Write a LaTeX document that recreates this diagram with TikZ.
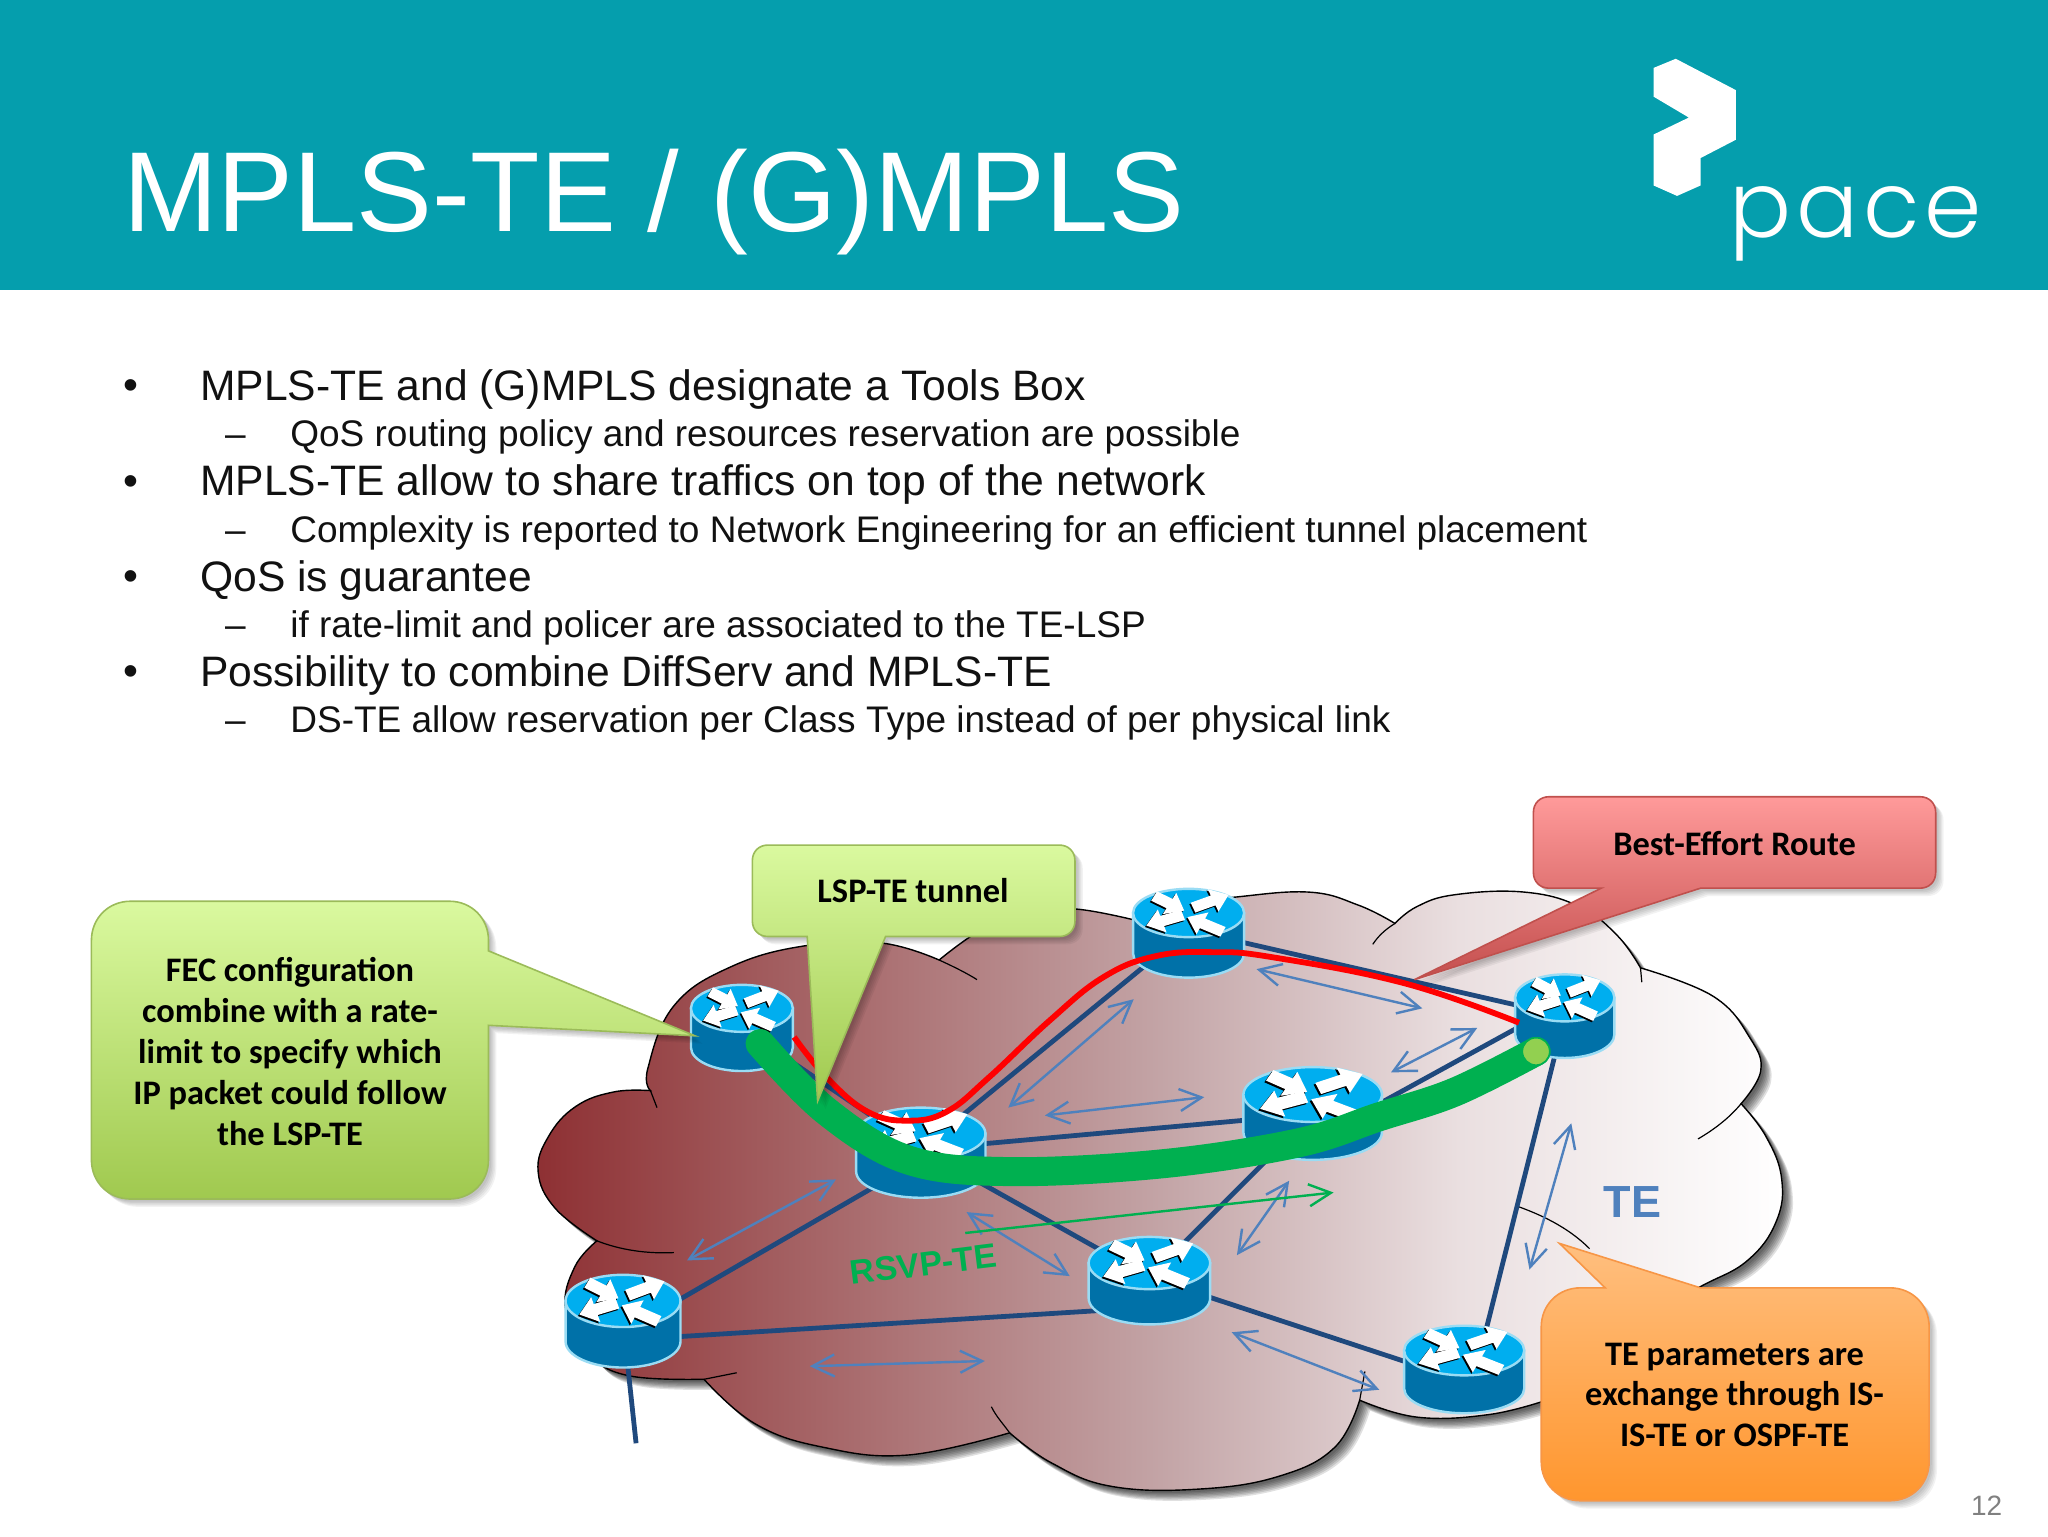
\documentclass[tikz,border=0pt]{standalone}
\usepackage{fontspec}
\usetikzlibrary{arrows.meta,calc}
\setmainfont{Liberation Sans}
\newfontfamily\calfont{Carlito}
\newfontfamily\pacefont{Poppins Light}[LetterSpace=5]
\definecolor{banner}{HTML}{059EAD}
\definecolor{linkblue}{HTML}{1F497D}
\definecolor{arrblue}{HTML}{4F81BD}
\definecolor{tegreen}{HTML}{00B050}
\definecolor{dotgreen}{HTML}{92D050}
\definecolor{rtop}{HTML}{00AEEF}
\definecolor{rside}{HTML}{0071A8}
\definecolor{rrim}{HTML}{9ADCF4}
\definecolor{bodytxt}{HTML}{111111}
\definecolor{FECa}{HTML}{DAF99F}
\definecolor{FECb}{HTML}{A0C94F}
\definecolor{FECe}{HTML}{9BBB59}
\definecolor{BSa}{HTML}{FF9A9A}
\definecolor{BSb}{HTML}{C44F4E}
\definecolor{BSe}{HTML}{C0504D}
\definecolor{ORa}{HTML}{FFBF7F}
\definecolor{ORb}{HTML}{FF962E}
\definecolor{ORe}{HTML}{F79646}
\definecolor{cl0}{HTML}{8E3033}
\definecolor{cl1}{HTML}{A35F61}
\definecolor{cl2}{HTML}{C3A4A6}
\definecolor{cl3}{HTML}{EADFE0}
\definecolor{cl4}{HTML}{FFFFFF}
\pgfdeclarehorizontalshading{cloudsh}{100bp}{color(0bp)=(cl0);color(25bp)=(cl0);color(35bp)=(cl1);color(50bp)=(cl2);color(62bp)=(cl3);color(75bp)=(cl4);color(100bp)=(cl4)}
% router drawing
\newcommand{\rtar}[4]{%
  \pgfmathsetmacro\rax{2*(#3-#1)}\pgfmathsetmacro\ray{#4-#2}%
  \pgfmathsetmacro\ral{veclen(\rax,\ray)}%
  \pgfmathsetmacro\rux{\rax/\ral}\pgfmathsetmacro\ruy{\ray/\ral}%
  \pgfmathsetmacro\rvx{-\ruy}\pgfmathsetmacro\rvy{\rux}%
  \pgfmathsetmacro\rnx{#3-\rux*.3}\pgfmathsetmacro\rny{#4-\ruy*.6}%
  \def\rtpoly{({#1+\rvx*.11},{#2+\rvy*.22}) -- ({\rnx+\rvx*.11},{\rny+\rvy*.22}) -- ({\rnx+\rvx*.25},{\rny+\rvy*.5}) -- (#3,#4) -- ({\rnx-\rvx*.25},{\rny-\rvy*.5}) -- ({\rnx-\rvx*.11},{\rny-\rvy*.22}) -- ({#1-\rvx*.11},{#2-\rvy*.22}) -- cycle}%
  \fill[black,shift={(-.025,.06)}] \rtpoly;
  \fill[white] \rtpoly;
}
\newcommand{\router}[5]{%
  \begin{scope}[shift={(#1,#2)},xscale=#3,yscale=#4]
  \pgfmathsetmacro\rH{#5/#4}
  \pgfmathsetmacro\rHa{\rH+.5523}\pgfmathsetmacro\rHb{\rH+1}
  \filldraw[fill=rside,draw=rrim,line width=1.2pt] (-1,0) -- (-1,\rH) .. controls (-1,\rHa) and (-.5523,\rHb) .. (0,\rHb) .. controls (.5523,\rHb) and (1,\rHa) .. (1,\rH) -- (1,0) -- cycle;
  \filldraw[fill=rtop,draw=rrim,line width=1.2pt] (0,0) circle (1);
  \rtar{-.62}{-.7}{-.08}{-.1}
  \rtar{.08}{-.22}{.72}{-.75}
  \rtar{-.1}{.08}{-.76}{.52}
  \rtar{.62}{.78}{-.02}{.17}
  \end{scope}}
\newcommand{\softshadow}[3]{\foreach \s in {#3}{\fill[black,opacity=#2,shift={(\s,\s)}] #1;}}
\def\cloudpath{(498,835)
 -- plot[smooth,tension=.7] coordinates {(498,835)(496,818)(516,770)(560,740)(617,724)(675,722)(719,735)}
 -- plot[smooth,tension=.7] coordinates {(719,735)(753,711)(790,698)(824,696)(867,704)}
 -- plot[smooth,tension=.7] coordinates {(867,704)(905,692)(944,687)(1002,683)(1040,693)(1068,707)}
 -- plot[smooth,tension=.7] coordinates {(1068,707)(1085,694)(1114,685)(1167,683)(1209,694)(1238,716)(1256,741)}
 -- plot[smooth,tension=.7] coordinates {(1256,741)(1312,763)(1340,795)(1348,820)(1333,845)}
 -- plot[smooth,tension=.7] coordinates {(1333,845)(1352,870)(1364,902)(1360,935)(1338,965)(1302,985)(1260,1008)(1184,1072)}
 -- plot[smooth,tension=.7] coordinates {(1184,1072)(1140,1083)(1085,1085)(1041,1072)}
 -- plot[smooth,tension=.7] coordinates {(1041,1072)(1022,1108)(980,1130)(919,1140)(851,1138)(805,1120)(773,1097)}
 -- plot[smooth,tension=.7] coordinates {(773,1097)(695,1114)(630,1108)(578,1090)(539,1056)}
 -- plot[smooth,tension=.7] coordinates {(539,1056)(480,1053)(450,1035)(433,1002)(440,970)(457,950)}
 -- plot[smooth,tension=.7] coordinates {(457,950)(425,925)(412,897)(420,870)(441,847)(470,836)(498,835)}
 -- cycle}
\def\fecpath{(100,690) -- (344,690) .. controls (361,690) and (374,703) .. (374,720) -- (374,728) -- (532,793) -- (374,785) -- (374,888) .. controls (374,905) and (361,918) .. (344,918) -- (100,918) .. controls (83,918) and (70,905) .. (70,888) -- (70,720) .. controls (70,703) and (83,690) .. (100,690) -- cycle}
\def\lsppath{(588,647) -- (811,647) .. controls (818,647) and (823,652) .. (823,659) -- (823,705) .. controls (823,712) and (818,717) .. (811,717) -- (678,717) -- (626,843) -- (618,717) -- (588,717) .. controls (581,717) and (576,712) .. (576,705) -- (576,659) .. controls (576,652) and (581,647) .. (588,647) -- cycle}
\def\bestpath{(1186,610) -- (1470,610) .. controls (1477,610) and (1482,615) .. (1482,622) -- (1482,668) .. controls (1482,675) and (1477,680) .. (1470,680) -- (1302,680) -- (1083,750) -- (1226,680) -- (1186,680) .. controls (1179,680) and (1174,675) .. (1174,668) -- (1174,622) .. controls (1174,615) and (1179,610) .. (1186,610) -- cycle}
\def\orgpath{(1210,986) -- (1229,986) -- (1194,952) -- (1302,986) -- (1447,986) .. controls (1464,986) and (1477,999) .. (1477,1016) -- (1477,1119) .. controls (1477,1136) and (1464,1149) .. (1447,1149) -- (1210,1149) .. controls (1193,1149) and (1180,1136) .. (1180,1119) -- (1180,1016) .. controls (1180,999) and (1193,986) .. (1210,986) -- cycle}
\tikzset{
  link/.style={draw=linkblue,line width=2.4pt},
  dbl/.style={draw=arrblue,line width=1.2pt,{Straight Barb[length=11pt,width=11pt,line width=1.2pt]}-{Straight Barb[length=11pt,width=11pt,line width=1.2pt]}},
  tail/.style={draw=black,line width=.6pt},
  mainline/.style={anchor=base west,inner sep=0pt,text=bodytxt,font=\fontsize{21.3pt}{25pt}\selectfont},
  subline/.style={anchor=base west,inner sep=0pt,text=bodytxt,font=\fontsize{18.5pt}{22pt}\selectfont},
  calltxt/.style={anchor=center,inner sep=0pt,align=center,text=black,font=\calfont\bfseries\fontsize{17.2pt}{20.45pt}\selectfont},
}
\begin{document}
\begin{tikzpicture}[x=0.65306pt,y=-0.65306pt]
\useasboundingbox (0,0) rectangle (1568,1176);
\fill[white] (0,0) rectangle (1568,1176);
\fill[banner] (0,0) rectangle (1568,222);
\node[anchor=base west,inner sep=0pt,text=white,font=\fontsize{56.85pt}{70pt}\selectfont] (title) at (94,177) {MPLS-TE / (G)MPLS};
% logo
\fill[white] (1266,52) -- (1283,45) -- (1329,69) -- (1329,107) -- (1302,121) -- (1302,142) -- (1284,150) -- (1266,142) -- (1266,103) -- (1293,90) -- (1266,74) -- cycle;
\node[anchor=base west,inner sep=0pt,text=white,font=\pacefont\fontsize{46pt}{50pt}\selectfont] (pace) at (1324,182) {pace};
% bullets
\foreach \y/\n in {306/b1,379/b2,452/b3,525/b4}{\node[mainline] (\n) at (94,\y) {•};}
\foreach \y/\n in {342/d1,415/d2,488/d3,561/d4}{\node[subline] (\n) at (172,\y) {–};}
\node[mainline] (t1) at (153,306.5) {MPLS-TE and (G)MPLS designate a Tools Box};
\node[subline] (s1) at (222,342) {QoS routing policy and resources reservation are possible};
\node[mainline] (t2) at (153,379.5) {MPLS-TE allow to share traffics on top of the network};
\node[subline] (s2) at (222,415) {Complexity is reported to Network Engineering for an efficient tunnel placement};
\node[mainline] (t3) at (153,452.5) {QoS is guarantee};
\node[subline] (s3) at (222,488) {if rate-limit and policer are associated to the TE-LSP};
\node[mainline] (t4) at (153,525.5) {Possibility to combine DiffServ and MPLS-TE};
\node[subline] (s4) at (222,561) {DS-TE allow reservation per Class Type instead of per physical link};
% cloud
\softshadow{\cloudpath}{.12}{2,3,4,5,6,7,8}
\path[shading=cloudsh,shading angle=0] \cloudpath;
\draw[black,line width=.7pt] \cloudpath;
\draw[tail] (503,848) -- (498,835);
\draw[tail] (457,950) .. controls (475,957) and (495,960) .. (516,959);
\draw[tail] (719,735) .. controls (730,740) and (740,745) .. (748,750);
\draw[tail] (1068,707) .. controls (1060,712) and (1055,717) .. (1051,723);
\draw[tail] (1256,741) -- (1257,752);
\draw[tail] (1333,845) .. controls (1324,856) and (1312,865) .. (1300,872);
\draw[tail] (539,1056) -- (564,1051);
\draw[tail] (773,1097) .. controls (768,1090) and (763,1085) .. (759,1077);
\draw[tail] (1163,924) .. controls (1185,932) and (1203,942) .. (1217,956);
\draw[tail] (1041,1072) -- (1045,1050);
% router hubs
\coordinate (r1) at (568,787);
\coordinate (r2) at (705,880);
\coordinate (r3) at (910,712);
\coordinate (r4) at (1198,778);
\coordinate (r5) at (1005,853);
\coordinate (r6) at (880,978);
\coordinate (r7) at (477,1012);
\coordinate (r8) at (1120,1057);
\coordinate (t7) at (487,1105);
% links
\draw[link] (r1) -- (r2);
\draw[link] (r2) -- (r3);
\draw[link] (r3) -- (r4);
\draw[link] (r2) -- (r5);
\draw[link] ($(r5)+(0,20)$) -- ($(r4)+(0,-11)$);
\draw[link] (r5) -- (r6);
\draw[link] (r2) -- (r6);
\draw[link] (r6) -- (r8);
\draw[link] ($(r8)+(8,0)$) -- (r4);
\draw[link] ($(r7)+(0,8)$) -- ($(r2)+(0,8)$);
\draw[link] ($(r7)+(0,14)$) -- ($(r6)+(0,23)$);
\draw[link] (r7) -- (t7);
% double arrows
\coordinate (a1a) at (868,765); \coordinate (a1b) at (772,848);
\coordinate (a2a) at (800,854); \coordinate (a2b) at (922,840);
\coordinate (a3a) at (526,965); \coordinate (a3b) at (640,903);
\coordinate (a4a) at (740,928); \coordinate (a4b) at (819,977);
\coordinate (a5a) at (620,1046); \coordinate (a5b) at (754,1042);
\coordinate (a6a) at (962,742); \coordinate (a6b) at (1089,772);
\coordinate (a7a) at (1065,821); \coordinate (a7b) at (1131,787);
\coordinate (a8a) at (947,961); \coordinate (a8b) at (987,904);
\coordinate (a9a) at (1171,972); \coordinate (a9b) at (1203,860);
\coordinate (a10a) at (943,1020); \coordinate (a10b) at (1056,1064);
\foreach \n in {a1,a2,a3,a4,a5,a6,a7,a8,a9,a10}{\draw[dbl] (\n a) -- (\n b);}
% green signalling arrow
\coordinate (g1) at (739,944); \coordinate (g2) at (1021,913);
\draw[draw=tegreen,line width=1.2pt,-{Straight Barb[length=11pt,width=11pt,line width=1.2pt]}] (g1) -- (g2);
% routers
\router{568}{772}{39}{18}{30}
\router{705}{868}{49.5}{20}{29}
\router{910}{699}{42.5}{18.5}{31}
\router{1198}{764}{38}{18}{28}
\router{1005}{838}{53}{21}{29}
\router{880}{967}{46.5}{20}{27}
\router{477}{996}{44}{20}{31}
\router{1121}{1034}{46}{19}{29}
% routes
\draw[red,line width=2.9pt] plot[smooth,tension=.7] coordinates {(608,794)(633,825)(664,851)(695,858)(725,851)(757,825)(804,781)(845,748)(885,732)(929,729)(975,733)(1076,753)(1163,783)};
\draw[tegreen,line width=14.5pt,line cap=round] plot[smooth,tension=.6] coordinates {(582,799)(633,851)(695,888)(773,897)(890,891)(994,875)(1056,855)(1114,836)(1176,805)};
\filldraw[fill=dotgreen,draw=tegreen,line width=.8pt] (1176,805) circle (10.5);
\node[anchor=center,inner sep=0pt,rotate=7,text=tegreen,font=\bfseries\fontsize{17pt}{20pt}\selectfont] (rsvp) at (707,968) {RSVP-TE};
\node[anchor=center,inner sep=0pt,text=arrblue,font=\bfseries\fontsize{22.5pt}{26pt}\selectfont] (te) at (1250,920) {TE};
% callouts
\softshadow{\fecpath}{.05}{2,3,4,5,6}
\path[top color=FECa,bottom color=FECb] \fecpath;
\draw[draw=FECe,line width=.8pt] \fecpath;
\softshadow{\lsppath}{.05}{2,3,4,5,6}
\path[top color=FECa,bottom color=FECb] \lsppath;
\draw[draw=FECe,line width=.8pt] \lsppath;
\softshadow{\bestpath}{.05}{2,3,4,5,6}
\path[top color=BSa,bottom color=BSb] \bestpath;
\draw[draw=BSe,line width=.8pt] \bestpath;
\softshadow{\orgpath}{.05}{2,3,4,5,6}
\path[top color=ORa,bottom color=ORb] \orgpath;
\draw[draw=ORe,line width=.8pt] \orgpath;
\node[calltxt] (fec) at (222,805) {FEC configuration\\combine with a rate-\\limit to specify which\\IP packet could follow\\the LSP-TE};
\node[calltxt] (lsp) at (699,682) {LSP-TE tunnel};
\node[calltxt] (best) at (1328,646) {Best-Effort Route};
\node[calltxt] (org) at (1328,1068) {TE parameters are\\exchange through IS-\\IS-TE or OSPF-TE};
\node[anchor=center,inner sep=0pt,text=black!50,font=\fontsize{14pt}{16pt}\selectfont] (pg) at (1521,1153) {12};
\end{tikzpicture}
\end{document}
